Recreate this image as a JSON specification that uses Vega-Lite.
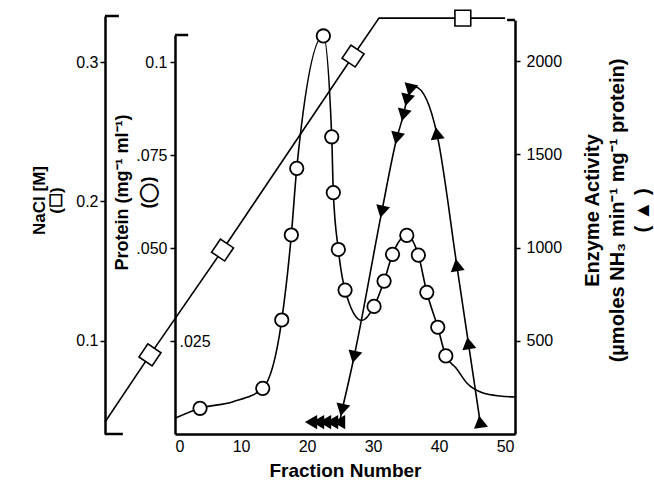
{
  "$schema": "https://vega.github.io/schema/vega-lite/v6.json",
  "width": 340,
  "height": 414,
  "autosize": {"type": "none"},
  "padding": {"left": 175, "top": 20, "right": 139, "bottom": 46},
  "background": "white",
  "config": {
    "view": {"stroke": null},
    "font": "Liberation Sans",
    "axis": {
      "grid": false,
      "domainColor": "black",
      "domainWidth": 2.5,
      "tickColor": "black",
      "tickWidth": 1.5,
      "tickSize": 5,
      "labelColor": "black",
      "labelFont": "Liberation Sans",
      "labelFontSize": 16,
      "titleColor": "black",
      "titleFont": "Liberation Sans",
      "titleFontWeight": "bold",
      "titleFontSize": 19
    }
  },
  "datasets": {
    "nacl": [
      {"fraction": -10.6, "nacl": 0.0419, "marker": false},
      {"fraction": -3.79, "nacl": 0.0900, "marker": true},
      {"fraction": 7.2, "nacl": 0.1652, "marker": true},
      {"fraction": 26.97, "nacl": 0.3043, "marker": true},
      {"fraction": 30.9, "nacl": 0.3315, "marker": false},
      {"fraction": 43.6, "nacl": 0.3315, "marker": true},
      {"fraction": 50.0, "nacl": 0.3315, "marker": false}
    ],
    "protein": [
      {"fraction": 0, "protein": 0.00422, "marker": false},
      {"fraction": 3.79, "protein": 0.00691, "marker": true},
      {"fraction": 8.8, "protein": 0.00868, "marker": false},
      {"fraction": 13.29, "protein": 0.01228, "marker": true},
      {"fraction": 16.17, "protein": 0.03065, "marker": true},
      {"fraction": 17.62, "protein": 0.0535, "marker": true},
      {"fraction": 18.44, "protein": 0.07142, "marker": true},
      {"fraction": 22.47, "protein": 0.1070, "marker": true},
      {"fraction": 23.74, "protein": 0.0799, "marker": true},
      {"fraction": 23.98, "protein": 0.0649, "marker": true},
      {"fraction": 24.74, "protein": 0.0496, "marker": true},
      {"fraction": 25.76, "protein": 0.0387, "marker": true},
      {"fraction": 28.29, "protein": 0.0305, "marker": false},
      {"fraction": 30.15, "protein": 0.0343, "marker": true},
      {"fraction": 31.67, "protein": 0.0411, "marker": true},
      {"fraction": 32.95, "protein": 0.0483, "marker": true},
      {"fraction": 35.11, "protein": 0.0534, "marker": true},
      {"fraction": 36.86, "protein": 0.0481, "marker": true},
      {"fraction": 38.14, "protein": 0.0381, "marker": true},
      {"fraction": 39.80, "protein": 0.0287, "marker": true},
      {"fraction": 41.02, "protein": 0.0210, "marker": true},
      {"fraction": 42.6, "protein": 0.0177, "marker": false},
      {"fraction": 44.2, "protein": 0.0137, "marker": false},
      {"fraction": 46.67, "protein": 0.0110, "marker": false},
      {"fraction": 49.24, "protein": 0.0102, "marker": false},
      {"fraction": 51.5, "protein": 0.00995, "marker": false}
    ],
    "enzyme": [
      {"fraction": 20.6, "enzyme": 64, "marker": true},
      {"fraction": 21.67, "enzyme": 64, "marker": true},
      {"fraction": 22.73, "enzyme": 64, "marker": true},
      {"fraction": 23.79, "enzyme": 64, "marker": true},
      {"fraction": 24.85, "enzyme": 64, "marker": true},
      {"fraction": 25.3, "enzyme": 129, "marker": true},
      {"fraction": 27.12, "enzyme": 413, "marker": true},
      {"fraction": 31.32, "enzyme": 1192, "marker": true},
      {"fraction": 33.59, "enzyme": 1586, "marker": true},
      {"fraction": 34.59, "enzyme": 1710, "marker": true},
      {"fraction": 35.11, "enzyme": 1791, "marker": true},
      {"fraction": 35.61, "enzyme": 1845, "marker": true},
      {"fraction": 36.36, "enzyme": 1861, "marker": false},
      {"fraction": 38.14, "enzyme": 1791, "marker": false},
      {"fraction": 39.65, "enzyme": 1613, "marker": true},
      {"fraction": 42.68, "enzyme": 906, "marker": true},
      {"fraction": 44.44, "enzyme": 487, "marker": true},
      {"fraction": 46.21, "enzyme": 66, "marker": true}
    ]
  },
  "layer": [
    {
      "data": {"name": "nacl"},
      "layer": [
        {
          "mark": {"type": "line", "color": "black", "strokeWidth": 1.6},
          "encoding": {
            "x": {"field": "fraction", "type": "quantitative", "scale": {"domain": [0, 51.5], "nice": false, "zero": false},
              "axis": {"title": "Fraction Number", "values": [0, 10, 20, 30, 40, 50], "ticks": false, "labelPadding": 4, "titlePadding": 7}},
            "y": {"field": "nacl", "type": "quantitative",
              "scale": {"domain": [0.0333, 0.333], "range": [414, -4], "nice": false, "zero": false},
              "axis": {"orient": "left", "offset": 70, "values": [0.1, 0.2, 0.3], "format": ".1f", "labelPadding": 2,
                "title": ["NaCl [M]", "(☐)"], "titleAngle": 270, "titleX": -66, "titleY": 180, "titleFontSize": 17,
                "titleAlign": "center", "titleBaseline": "middle", "titleLineHeight": 17}}
          }
        },
        {
          "transform": [{"filter": "datum.marker"}],
          "mark": {"type": "point", "shape": "square", "filled": true, "fill": "white", "stroke": "black", "strokeWidth": 1.6, "size": 250, "opacity": 1},
          "encoding": {
            "x": {"field": "fraction", "type": "quantitative", "scale": {"domain": [0, 51.5], "nice": false, "zero": false},
              "axis": {"title": "Fraction Number", "values": [0, 10, 20, 30, 40, 50], "ticks": false, "labelPadding": 4, "titlePadding": 7}},
            "y": {"field": "nacl", "type": "quantitative", "scale": {"domain": [0.0333, 0.333], "range": [414, -4], "nice": false, "zero": false},
              "axis": {"orient": "left", "offset": 70, "values": [0.1, 0.2, 0.3], "format": ".1f", "labelPadding": 2,
                "title": ["NaCl [M]", "(☐)"], "titleAngle": 270, "titleX": -66, "titleY": 180, "titleFontSize": 17,
                "titleAlign": "center", "titleBaseline": "middle", "titleLineHeight": 17}},
            "angle": {"condition": {"test": "datum.fraction < 30", "value": 34}, "value": 0}
          }
        },
        {
          "data": {"values": [{}]},
          "mark": {"type": "rule", "color": "black", "strokeWidth": 2.5},
          "encoding": {
            "x": {"datum": -10.6, "type": "quantitative", "scale": {"domain": [0, 51.5], "nice": false, "zero": false},
              "axis": {"title": "Fraction Number", "values": [0, 10, 20, 30, 40, 50], "ticks": false, "labelPadding": 4, "titlePadding": 7}},
            "x2": {"datum": -8.5},
            "y": {"datum": 0.333, "type": "quantitative", "scale": {"domain": [0.0333, 0.333], "range": [414, -4], "nice": false, "zero": false},
              "axis": {"orient": "left", "offset": 70, "values": [0.1, 0.2, 0.3], "format": ".1f", "labelPadding": 2,
                "title": ["NaCl [M]", "(☐)"], "titleAngle": 270, "titleX": -66, "titleY": 180, "titleFontSize": 17,
                "titleAlign": "center", "titleBaseline": "middle", "titleLineHeight": 17}}
          }
        },
        {
          "data": {"values": [{}]},
          "mark": {"type": "rule", "color": "black", "strokeWidth": 2.5},
          "encoding": {
            "x": {"datum": -10.6, "type": "quantitative", "scale": {"domain": [0, 51.5], "nice": false, "zero": false},
              "axis": {"title": "Fraction Number", "values": [0, 10, 20, 30, 40, 50], "ticks": false, "labelPadding": 4, "titlePadding": 7}},
            "x2": {"datum": -7.9},
            "y": {"datum": 0.0333, "type": "quantitative", "scale": {"domain": [0.0333, 0.333], "range": [414, -4], "nice": false, "zero": false},
              "axis": {"orient": "left", "offset": 70, "values": [0.1, 0.2, 0.3], "format": ".1f", "labelPadding": 2,
                "title": ["NaCl [M]", "(☐)"], "titleAngle": 270, "titleX": -66, "titleY": 180, "titleFontSize": 17,
                "titleAlign": "center", "titleBaseline": "middle", "titleLineHeight": 17}}
          }
        }
      ]
    },
    {
      "data": {"name": "protein"},
      "layer": [
        {
          "mark": {"type": "line", "color": "black", "strokeWidth": 1.6, "interpolate": "monotone"},
          "encoding": {
            "x": {"field": "fraction", "type": "quantitative", "scale": {"domain": [0, 51.5], "nice": false, "zero": false},
              "axis": {"title": "Fraction Number", "values": [0, 10, 20, 30, 40, 50], "ticks": false, "labelPadding": 4, "titlePadding": 7}},
            "y": {"field": "protein", "type": "quantitative",
              "scale": {"domain": [0, 0.10726], "range": [414, 15], "nice": false, "zero": false},
              "axis": {"orient": "left", "offset": 0, "values": [0.025, 0.05, 0.075, 0.1],
                "labelExpr": "datum.value > 0.09 ? '0.1' : replace(format(datum.value, '.3f'), '0.', '.')",
                "labelAlign": {"condition": {"test": "datum.value < 0.03", "value": "left"}, "value": "right"},
                "labelPadding": {"condition": {"test": "datum.value < 0.03", "value": -9}, "value": 3},
                "title": ["Protein (mg⁻¹  ml⁻¹)", "(◯)"], "titleAngle": 270, "titleX": -53, "titleY": 172, "titleFontSize": 18,
                "titleAlign": "center", "titleBaseline": "middle", "titleLineHeight": 26}}
          }
        },
        {
          "transform": [{"filter": "datum.marker"}],
          "mark": {"type": "point", "shape": "circle", "filled": true, "fill": "white", "stroke": "black", "strokeWidth": 1.8, "size": 180, "opacity": 1},
          "encoding": {
            "x": {"field": "fraction", "type": "quantitative", "scale": {"domain": [0, 51.5], "nice": false, "zero": false},
              "axis": {"title": "Fraction Number", "values": [0, 10, 20, 30, 40, 50], "ticks": false, "labelPadding": 4, "titlePadding": 7}},
            "y": {"field": "protein", "type": "quantitative", "scale": {"domain": [0, 0.10726], "range": [414, 15], "nice": false, "zero": false},
              "axis": {"orient": "left", "offset": 0, "values": [0.025, 0.05, 0.075, 0.1],
                "labelExpr": "datum.value > 0.09 ? '0.1' : replace(format(datum.value, '.3f'), '0.', '.')",
                "labelAlign": {"condition": {"test": "datum.value < 0.03", "value": "left"}, "value": "right"},
                "labelPadding": {"condition": {"test": "datum.value < 0.03", "value": -9}, "value": 3},
                "title": ["Protein (mg⁻¹  ml⁻¹)", "(◯)"], "titleAngle": 270, "titleX": -53, "titleY": 172, "titleFontSize": 18,
                "titleAlign": "center", "titleBaseline": "middle", "titleLineHeight": 26}}
          }
        },
        {
          "data": {"values": [{}]},
          "mark": {"type": "rule", "color": "black", "strokeWidth": 2.5},
          "encoding": {
            "x": {"datum": 0, "type": "quantitative", "scale": {"domain": [0, 51.5], "nice": false, "zero": false},
              "axis": {"title": "Fraction Number", "values": [0, 10, 20, 30, 40, 50], "ticks": false, "labelPadding": 4, "titlePadding": 7}},
            "x2": {"datum": 2},
            "y": {"datum": 0.10726, "type": "quantitative", "scale": {"domain": [0, 0.10726], "range": [414, 15], "nice": false, "zero": false},
              "axis": {"orient": "left", "offset": 0, "values": [0.025, 0.05, 0.075, 0.1],
                "labelExpr": "datum.value > 0.09 ? '0.1' : replace(format(datum.value, '.3f'), '0.', '.')",
                "labelAlign": {"condition": {"test": "datum.value < 0.03", "value": "left"}, "value": "right"},
                "labelPadding": {"condition": {"test": "datum.value < 0.03", "value": -9}, "value": 3},
                "title": ["Protein (mg⁻¹  ml⁻¹)", "(◯)"], "titleAngle": 270, "titleX": -53, "titleY": 172, "titleFontSize": 18,
                "titleAlign": "center", "titleBaseline": "middle", "titleLineHeight": 26}}
          }
        }
      ]
    },
    {
      "data": {"name": "enzyme"},
      "layer": [
        {
          "mark": {"type": "line", "color": "black", "strokeWidth": 1.6, "interpolate": "monotone"},
          "encoding": {
            "x": {"field": "fraction", "type": "quantitative", "scale": {"domain": [0, 51.5], "nice": false, "zero": false},
              "axis": {"title": "Fraction Number", "values": [0, 10, 20, 30, 40, 50], "ticks": false, "labelPadding": 4, "titlePadding": 7}},
            "y": {"field": "enzyme", "type": "quantitative",
              "scale": {"domain": [0, 2220], "range": [414, 0], "nice": false, "zero": false},
              "axis": {"orient": "right", "offset": 0, "values": [500, 1000, 1500, 2000], "format": "d", "labelPadding": 6,
                "title": ["Enzyme Activity", "(µmoles NH₃ min⁻¹ mg⁻¹ protein)", "( ▲ )"], "titleAngle": 270, "titleX": 77, "titleY": 190,
                "titleAlign": "center", "titleBaseline": "middle", "titleLineHeight": 25, "titleFontSize": 20}}
          }
        },
        {
          "transform": [{"filter": "datum.marker"}],
          "mark": {"type": "point", "filled": true, "color": "black", "size": 200, "opacity": 1},
          "encoding": {
            "x": {"field": "fraction", "type": "quantitative", "scale": {"domain": [0, 51.5], "nice": false, "zero": false},
              "axis": {"title": "Fraction Number", "values": [0, 10, 20, 30, 40, 50], "ticks": false, "labelPadding": 4, "titlePadding": 7}},
            "y": {"field": "enzyme", "type": "quantitative", "scale": {"domain": [0, 2220], "range": [414, 0], "nice": false, "zero": false},
              "axis": {"orient": "right", "offset": 0, "values": [500, 1000, 1500, 2000], "format": "d", "labelPadding": 6,
                "title": ["Enzyme Activity", "(µmoles NH₃ min⁻¹ mg⁻¹ protein)", "( ▲ )"], "titleAngle": 270, "titleX": 77, "titleY": 190,
                "titleAlign": "center", "titleBaseline": "middle", "titleLineHeight": 25, "titleFontSize": 20}},
            "shape": {"condition": [{"test": "datum.enzyme < 100 && datum.fraction < 25", "value": "triangle-left"}, {"test": "datum.fraction < 37", "value": "triangle-down"}], "value": "triangle-up"},
            "angle": {"condition": [{"test": "datum.enzyme < 100 && datum.fraction < 25", "value": 0}, {"test": "datum.fraction < 37", "value": 13}], "value": 351}
          }
        },
        {
          "data": {"values": [{}]},
          "mark": {"type": "rule", "color": "black", "strokeWidth": 2.5},
          "encoding": {
            "x": {"datum": 50.3, "type": "quantitative", "scale": {"domain": [0, 51.5], "nice": false, "zero": false},
              "axis": {"title": "Fraction Number", "values": [0, 10, 20, 30, 40, 50], "ticks": false, "labelPadding": 4, "titlePadding": 7}},
            "x2": {"datum": 51.5},
            "y": {"datum": 2220, "type": "quantitative", "scale": {"domain": [0, 2220], "range": [414, 0], "nice": false, "zero": false},
              "axis": {"orient": "right", "offset": 0, "values": [500, 1000, 1500, 2000], "format": "d", "labelPadding": 6,
                "title": ["Enzyme Activity", "(µmoles NH₃ min⁻¹ mg⁻¹ protein)", "( ▲ )"], "titleAngle": 270, "titleX": 77, "titleY": 190,
                "titleAlign": "center", "titleBaseline": "middle", "titleLineHeight": 25, "titleFontSize": 20}}
          }
        }
      ]
    }
  ],
  "resolve": {"scale": {"y": "independent"}, "axis": {"y": "independent"}}
}
